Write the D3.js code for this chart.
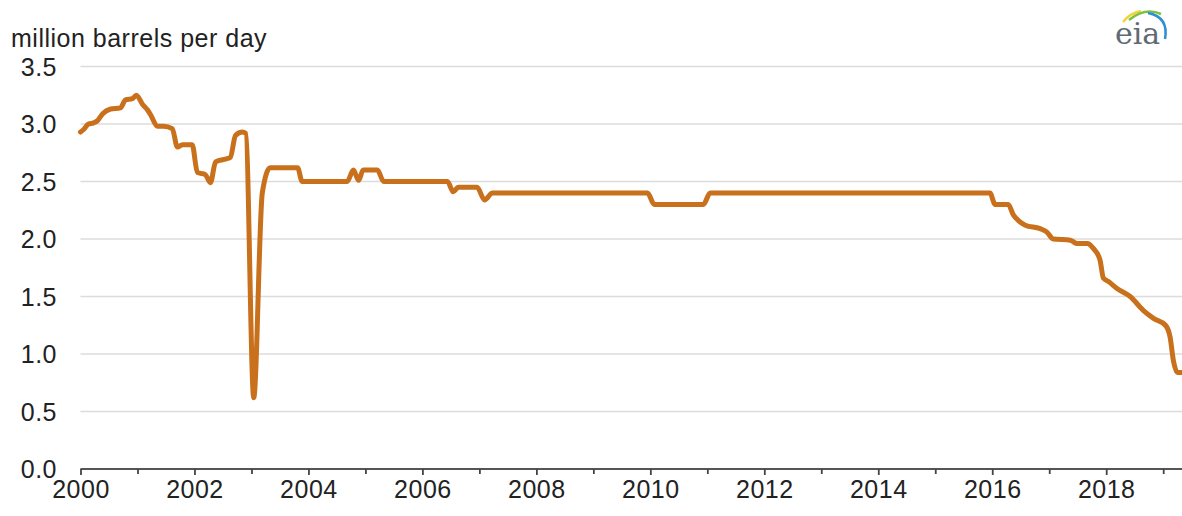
<!DOCTYPE html>
<html>
<head>
<meta charset="utf-8">
<script src="https://cdn.jsdelivr.net/npm/d3@7"></script>
<style>
  body { margin: 0; background: #fff; }
  text { font-family: "Liberation Sans", Arial, sans-serif; }
</style>
</head>
<body>
<div id="plot"></div>
<script>
// Data (fractional year, million barrels per day)
const years = [
  2000.00, 2000.05, 2000.14, 2000.23, 2000.30, 2000.39, 2000.53, 2000.70, 2000.79, 2000.91,
  2000.98, 2001.09, 2001.18, 2001.23, 2001.35, 2001.46, 2001.61, 2001.70, 2001.79, 2001.96,
  2002.05, 2002.19, 2002.28, 2002.37, 2002.58, 2002.63, 2002.72, 2002.84, 2002.90, 2003.04,
  2003.19, 2003.33, 2003.81, 2003.89, 2004.68, 2004.79, 2004.88, 2004.96, 2005.21, 2005.32,
  2006.44, 2006.54, 2006.63, 2006.96, 2007.09, 2007.23, 2009.95, 2010.07, 2010.93, 2011.05,
  2015.96, 2016.05, 2016.28, 2016.37, 2016.46, 2016.58, 2016.84, 2016.96, 2017.07, 2017.37,
  2017.49, 2017.67, 2017.77, 2017.89, 2017.95, 2018.04, 2018.19, 2018.42, 2018.65, 2018.83,
  2019.04, 2019.12, 2019.18, 2019.25, 2019.33
];
const production = [
  2.93, 2.95, 3.00, 3.01, 3.03, 3.09, 3.13, 3.14, 3.21, 3.22,
  3.25, 3.17, 3.12, 3.08, 2.98, 2.98, 2.96, 2.80, 2.82, 2.82,
  2.58, 2.56, 2.49, 2.67, 2.70, 2.71, 2.90, 2.93, 2.92, 0.62,
  2.40, 2.62, 2.62, 2.50, 2.50, 2.60, 2.51, 2.60, 2.60, 2.50,
  2.50, 2.41, 2.45, 2.45, 2.34, 2.40, 2.40, 2.30, 2.30, 2.40,
  2.40, 2.30, 2.30, 2.21, 2.16, 2.12, 2.09, 2.06, 2.00, 1.99,
  1.96, 1.96, 1.92, 1.82, 1.66, 1.63, 1.57, 1.50, 1.38, 1.31,
  1.25, 1.15, 0.94, 0.84, 0.84
];
const yTicks = [0, 0.5, 1.0, 1.5, 2.0, 2.5, 3.0, 3.5];
const xMajorTicks = [2000, 2002, 2004, 2006, 2008, 2010, 2012, 2014, 2016, 2018];
const xMinorTicks = [2001, 2003, 2005, 2007, 2009, 2011, 2013, 2015, 2017, 2019];
const unitLabel = "million barrels per day";

// Chart dimensions and setup
const width = 1182;
const height = 516;
const margin = { top: 66.5, right: 0, bottom: 47, left: 80.5 };

const svg = d3.select("#plot")
  .append("svg")
  .attr("width", width)
  .attr("height", height);

const x = d3.scaleLinear()
  .domain([2000, 2019.33])
  .range([margin.left, width - margin.right]);

const y = d3.scaleLinear()
  .domain([0, 3.5])
  .range([height - margin.bottom, margin.top]);

// Gridlines
svg.append("g")
  .selectAll("line")
  .data(yTicks.filter(d => d > 0))
  .enter()
  .append("line")
  .attr("x1", margin.left)
  .attr("x2", width)
  .attr("y1", d => y(d))
  .attr("y2", d => y(d))
  .attr("stroke", "#dcdcdc")
  .attr("stroke-width", 1.5);

// Y tick labels
svg.append("g")
  .selectAll("text")
  .data(yTicks)
  .enter()
  .append("text")
  .attr("x", 57)
  .attr("y", d => y(d))
  .attr("dy", "0.36em")
  .attr("text-anchor", "end")
  .style("font-size", "25px")
  .style("letter-spacing", "0.5px")
  .style("fill", "#222")
  .text(d => d.toFixed(1));

// Unit label
svg.append("text")
  .attr("x", 11)
  .attr("y", 47)
  .style("font-size", "25px")
  .style("letter-spacing", "0.5px")
  .style("fill", "#222")
  .text(unitLabel);

// X axis: major ticks with labels, minor ticks without
const xAxis = svg.append("g")
  .attr("transform", `translate(0, ${y(0)})`)
  .call(d3.axisBottom(x).tickValues(xMajorTicks).tickFormat(d3.format("d")).tickSize(6).tickSizeOuter(0));

svg.append("g")
  .attr("transform", `translate(0, ${y(0)})`)
  .call(d3.axisBottom(x).tickValues(xMinorTicks).tickFormat("").tickSize(5).tickSizeOuter(0))
  .call(g => g.select(".domain").remove());

svg.selectAll(".tick line")
  .attr("stroke", "#444")
  .attr("stroke-width", 1.8);

xAxis.select(".domain")
  .attr("d", `M${margin.left},0H${width}`)
  .attr("stroke", "#555")
  .attr("stroke-width", 2.2);

xAxis.selectAll(".tick text")
  .attr("y", 11)
  .style("font-family", "'Liberation Sans', Arial, sans-serif")
  .style("font-size", "25px")
  .style("letter-spacing", "0.5px")
  .style("fill", "#222");

// Production line
const line = d3.line()
  .x(d => x(d[0]))
  .y(d => y(d[1]))
  .curve(d3.curveMonotoneX);

svg.append("path")
  .datum(d3.zip(years, production))
  .attr("d", line)
  .attr("fill", "none")
  .attr("stroke", "#c8701b")
  .attr("stroke-width", 5)
  .attr("stroke-linejoin", "round")
  .attr("stroke-linecap", "round");

// eia logo
const logo = svg.append("g");
logo.append("path")
  .attr("d", "M1123,22 Q1130,13 1141,11")
  .attr("fill", "none").attr("stroke", "#f2d43a").attr("stroke-width", 2.5);
logo.append("path")
  .attr("d", "M1129,20 Q1145,7 1161,14")
  .attr("fill", "none").attr("stroke", "#7cc242").attr("stroke-width", 2.5);
logo.append("path")
  .attr("d", "M1148,13 Q1169,17 1165,39")
  .attr("fill", "none").attr("stroke", "#2f8fd0").attr("stroke-width", 2.5);
logo.append("text")
  .attr("x", 1115)
  .attr("y", 44)
  .style("font-family", "'DejaVu Serif', serif")
  .style("font-size", "30px")
  .style("fill", "#5f6a72")
  .text("eia");
</script>
</body>
</html>
